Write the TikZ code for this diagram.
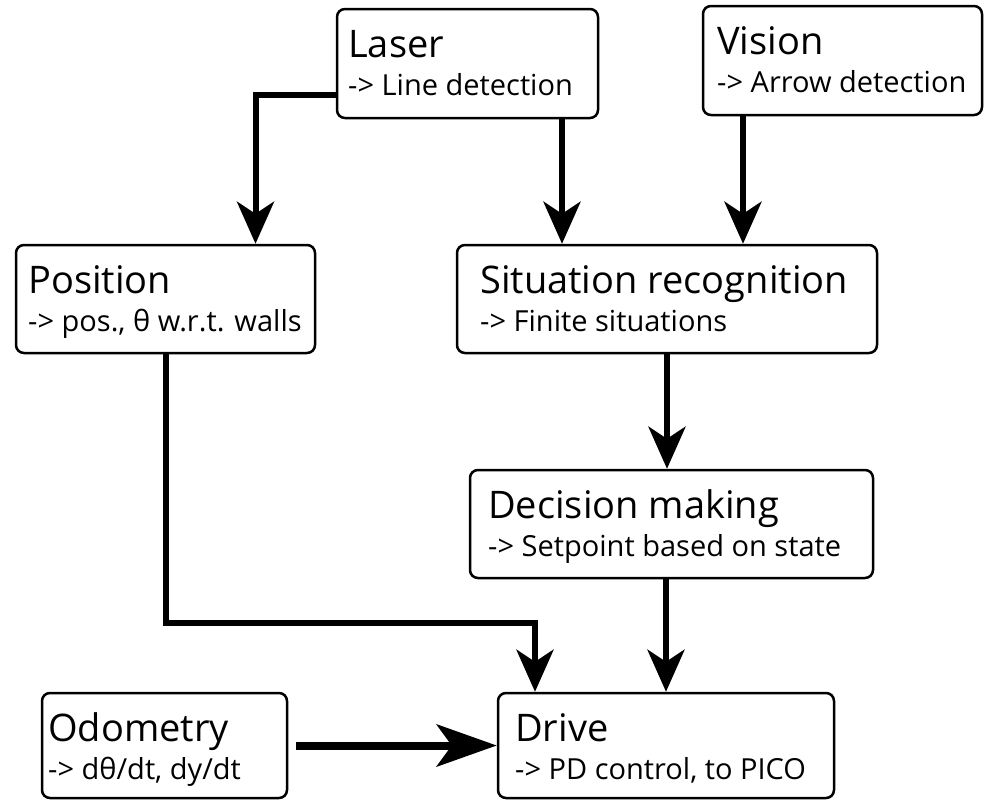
\documentclass[tikz,border=0pt]{standalone}
\usepackage{fontspec}
\setmainfont{Open Sans}
\usetikzlibrary{arrows.meta}

\begin{document}
\begin{tikzpicture}[x=1pt,y=-1pt,
    box/.style={draw,line width=2.5pt,rounded corners=8pt,inner sep=0pt},
    ttl/.style={inner sep=0pt,anchor=base west,font=\fontsize{38}{44}\selectfont},
    sub/.style={inner sep=0pt,anchor=base west,font=\fontsize{29}{34}\selectfont},
    flow/.style={line width=6pt,-{Stealth[length=42pt,width=37pt,inset=12pt]}},
    bigflow/.style={line width=8pt,-{Stealth[length=60pt,width=42pt,inset=15pt]}}]
    % name, left, top, right, bottom, text pad, title, subtitle
    \newcommand{\blk}[8]{%
        \node[box,minimum width={(#4-#2)*1pt},minimum height={(#5-#3)*1pt}]
            (#1) at ({(#2+#4)/2},{(#3+#5)/2}) {};
        \node[ttl] (#1-t) at ({#2+#6},{#3+48}) {#7};
        \node[sub] (#1-s) at ({#2+#6},{#3+86}) {#8};
    }
    \useasboundingbox (0,0) rectangle (985,801);
    %\draw[help lines,step=50] (0,0) grid (985,801);
    \blk{laser}{337}{9}{598}{118}{11}{Laser}{-> Line detection}
    \blk{vision}{703}{6}{982}{115}{14}{Vision}{-> Arrow detection}
    \blk{position}{16}{245}{315}{353}{12}{Position}{-> pos., θ w.r.t. walls}
    \blk{situation}{457}{245}{877}{353}{23}{Situation recognition}{-> Finite situations}
    \blk{decision}{470}{470}{873}{578}{18}{Decision making}{-> Setpoint based on state}
    \blk{odometry}{42}{693}{287}{798}{6}{Odometry}{-> dθ/dt, dy/dt}
    \blk{drive}{498}{693}{834}{798}{17}{Drive}{-> PD control, to PICO}
    % data flow
    \draw[flow] ([yshift=24pt]laser.south west) -| ([xshift=90pt]position.north);
    \draw[flow] ([xshift=94.5pt]laser.south) -- ([xshift=94.5pt]laser.south |- situation.north);
    \draw[flow] ([xshift=-99.5pt]vision.south) -- ([xshift=-99.5pt]vision.south |- situation.north);
    \draw[flow] (situation.south) -- (situation.south |- decision.north);
    \draw[flow] (decision.south -| drive.north) -- (drive.north);
    \draw[flow] (position.south) -- ++(0,269) -| ([xshift=-131pt]drive.north);
    \draw[bigflow,shorten <=8pt] (odometry.east) -- (drive.west);
\end{tikzpicture}
\end{document}
